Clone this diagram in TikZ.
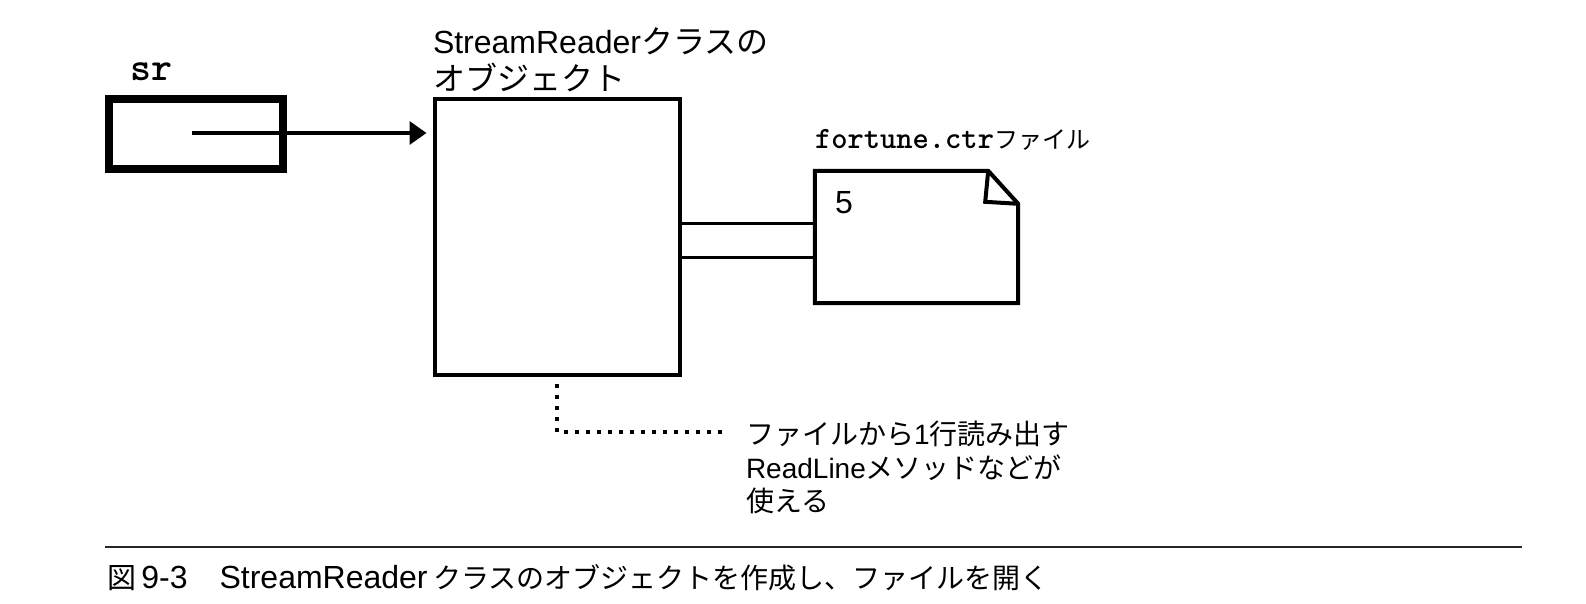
\documentclass[tikz,border=0pt]{standalone}
\usepackage{fontspec}
\setmainfont{Liberation Sans}
\newfontfamily\jp{Noto Sans CJK JP}
\usetikzlibrary{arrows.meta}
\newcommand\J[1]{{\jp\mdseries #1}}
\newcommand\fs[2]{\fontsize{#1}{#2}\selectfont}
\newcommand\heavymono{\ttfamily\bfseries\addfontfeatures{FakeBold=1.2}}
\tikzset{
  txt/.style={inner sep=0pt, outer sep=0pt, anchor=base west, align=left},
  thickbox/.style={draw, line width=4pt, inner sep=0pt, minimum width=245.5pt, minimum height=276pt},
  varbox/.style={draw, line width=8pt, inner sep=0pt, minimum width=174pt, minimum height=70pt},
  link/.style={line width=3.5pt},
  pointer/.style={line width=3.5pt, -{Triangle[length=17pt,width=23pt]}, shorten >=6pt},
  dotline/.style={line width=4pt, dash pattern=on 4pt off 7pt},
}
\begin{document}
\begin{tikzpicture}[x=1pt,y=-1pt]
\useasboundingbox (0,0) rectangle (1586,603);
\fill[white] (0,0) rectangle (1586,603);

% variable sr
\node[varbox] (srbox) at (196,134) {};
\node[txt, font=\heavymono\fs{40}{40}] (srlabel) at (130,80) {sr};

% StreamReader object
\node[thickbox] (obj) at (557.25,237) {};
\node[txt, font=\fs{32}{37}] (objlabel1) at (433,53) {StreamReader\J{クラスの}};
\node[txt, font=\fs{32}{37}] (objlabel2) at (433,90) {\J{オブジェクト}};

% pointer
\coordinate (srptr) at (192,133);
\draw[pointer] (srptr) -- (obj.west |- srptr);

% file
\node[inner sep=0pt, minimum width=203pt, minimum height=132pt] (file) at (916.5,237) {};
\draw[line width=4pt, line join=miter]
  (file.north west) -- ([xshift=-30pt]file.north east) -- ([yshift=-33pt]file.north east)
  -- (file.south east) -- (file.south west) -- cycle;
\draw[line width=4pt, line join=miter]
  ([xshift=-30pt]file.north east) -- ([xshift=-33pt,yshift=-31pt]file.north east) -- ([yshift=-33pt]file.north east);
\node[txt, font=\fs{32}{32}] (five) at (835,213) {5};
\node[txt, font=\heavymono\fs{31}{31}] (filelabel) at (815,148) {fortune.ctr\J{\fs{24}{24}ファイル}};

% connection pipe
\draw[link] (obj.east |- 0,223.5) -- (file.west |- 0,223.5);
\draw[link] (obj.east |- 0,257.5) -- (file.west |- 0,257.5);

% dotted callout
\coordinate (dotend) at (723,432);
\draw[dotline] ([yshift=-7pt]obj.south) -- (obj.south |- dotend) -- (dotend);
\node[txt, font=\fs{28}{29}] (note1) at (746,444) {\J{ファイルから}1\J{行読み出す}};
\node[txt, font=\fs{28}{29}] (note2) at (746,478) {ReadLine\J{メソッドなどが}};
\node[txt, font=\fs{28}{29}] (note3) at (746,511) {\J{使える}};

% caption
\coordinate (capl) at (105,547);
\coordinate (capr) at (1522,547);
\draw[line width=1.5pt, black!85] (capl) -- (capr);
\node[txt, font=\fs{32}{32}] (caption) at (107,588) {\J{\fs{29}{29}図}\,9-3\J{　}StreamReader\,\J{\fs{28}{28}クラスのオブジェクトを作成し、ファイルを開く}};
\end{tikzpicture}
\end{document}
